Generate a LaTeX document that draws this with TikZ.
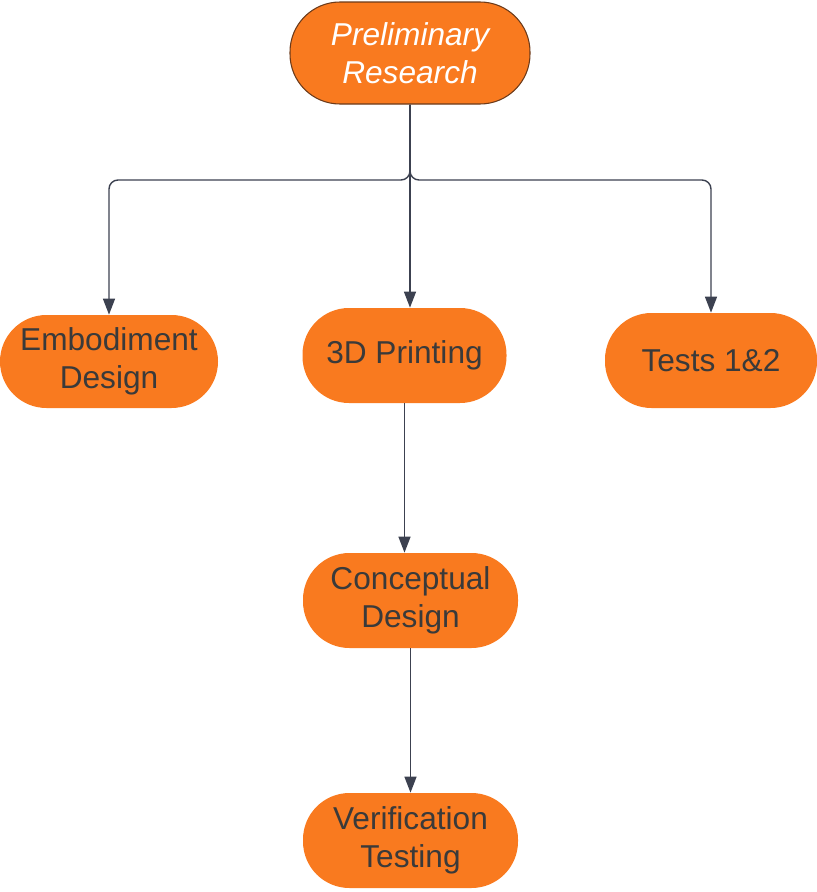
\documentclass[tikz,border=0pt]{standalone}
\usepackage{fontspec}
\setmainfont{Liberation Sans}
\usetikzlibrary{arrows.meta,positioning}
\definecolor{boxorange}{HTML}{F97A1F}
\definecolor{boxedge}{HTML}{6B3A1A}
\definecolor{inktext}{HTML}{3A3A3A}
\definecolor{linkgray}{HTML}{3C4150}
\tikzset{
	stage/.style={rectangle,rounded corners=0.93cm,fill=boxorange,text=inktext,align=center,
		minimum height=1.9cm,inner sep=2pt,font=\fontsize{18}{21.5}\selectfont},
	link/.style={draw=linkgray,line width=0.8pt,-{Triangle[length=3.2mm,width=2.4mm]}}
}
\begin{document}
\begin{tikzpicture}
	\useasboundingbox (0,0) rectangle (16.34,-17.84);
	
	%BOXES
	\node[stage,draw=boxedge,line width=0.6pt,text=white,font=\fontsize{18}{21.5}\selectfont\itshape,
		minimum width=4.8cm,minimum height=2.04cm,rounded corners=1cm] (prelim) at (8.2,-1.06) {Preliminary\\Research};
	\node[stage,minimum width=4.36cm,minimum height=1.86cm] (embod) at (2.18,-7.23) {Embodiment\\Design};
	\node[stage,minimum width=4.08cm] (printing) at (8.09,-7.11) {3D Printing};
	\node[stage,minimum width=4.24cm] (tests) at (14.22,-7.21) {Tests 1\&2};
	\node[stage,minimum width=4.3cm] (concept) at (8.21,-12.01) {Conceptual\\Design};
	\node[stage,minimum width=4.3cm] (verif) at (8.21,-16.81) {Verification\\Testing};
	
	%ARROWS
	\coordinate (split) at (8.2,-3.6);	%where the trunk splits
	\draw[link,rounded corners=0.18cm] (prelim.south) -- (split) -| (embod.north);
	\draw[link,rounded corners=0.18cm] (prelim.south) -- (split) -| (tests.north);
	\draw[link] (prelim.south) -- (prelim.south |- printing.north);
	\draw[link] (printing.south) -- (printing.south |- concept.north);
	\draw[link] (concept.south) -- (verif.north);
\end{tikzpicture}
\end{document}
